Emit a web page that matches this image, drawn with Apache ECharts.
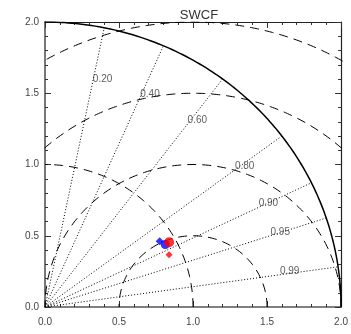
<!DOCTYPE html>
<html>
<head>
<meta charset="utf-8">
<script src="https://cdn.jsdelivr.net/npm/echarts@6/dist/echarts.min.js"></script>
<style>
  html, body { margin: 0; padding: 0; background: #ffffff; }
  #chart { width: 351px; height: 334px; }
</style>
</head>
<body>
<div id="chart"></div>
<script>
// Taylor diagram of normalized standard deviation vs. correlation
const chartTitle = 'SWCF';
const axisTickValues = [0.0, 0.5, 1.0, 1.5, 2.0];
const axisTickLabels = ['0.0', '0.5', '1.0', '1.5', '2.0'];
const outerStdRadius = 2.0;          // solid outer arc
const refStdRadius = 1.0;            // dashed reference std arc
const rmsRadii = [0.5, 1.0, 1.5, 2.0]; // centred RMS difference arcs around (1, 0)
const corrValues = [0.20, 0.40, 0.60, 0.80, 0.90, 0.95, 0.99];
const corrLabels = ['0.20', '0.40', '0.60', '0.80', '0.90', '0.95', '0.99'];
const corrLabelRadius = 1.6;

// cases: normalized standard deviation and correlation with the reference
const caseStd  = [0.902, 0.923, 0.954, 0.915];
const caseCorr = [0.859, 0.880, 0.879, 0.916];

const FONT = '"Liberation Sans", Arial, Helvetica, sans-serif';

function polarToXY(s, r) {
  return [s * r, s * Math.sqrt(Math.max(0, 1 - r * r))];
}

function arcPoints(cx, radius, a0, a1, n) {
  const pts = [];
  for (let i = 0; i <= n; i++) {
    const a = a0 + (a1 - a0) * i / n;
    pts.push([cx + radius * Math.cos(a), radius * Math.sin(a)]);
  }
  return pts;
}

const series = [];

// outer std arc
series.push({
  type: 'line', data: arcPoints(0, outerStdRadius, 0, Math.PI / 2, 240),
  showSymbol: false, silent: true, clip: true, animation: false,
  lineStyle: { color: '#000', width: 1.5, type: 'solid' }, z: 3
});

// reference std arc
series.push({
  type: 'line', data: arcPoints(0, refStdRadius, 0, Math.PI / 2, 160),
  showSymbol: false, silent: true, clip: true, animation: false,
  lineStyle: { color: '#000', width: 1, type: [9, 6] }, z: 2
});

// RMS difference arcs around the reference point
rmsRadii.forEach(function (rad) {
  series.push({
    type: 'line', data: arcPoints(1.0, rad, 0, Math.PI, 300),
    showSymbol: false, silent: true, clip: true, animation: false,
    lineStyle: { color: '#000', width: 1, type: [9, 6] }, z: 2
  });
});

// correlation rays
corrValues.forEach(function (r) {
  series.push({
    type: 'line', data: [[0, 0], polarToXY(outerStdRadius, r)],
    showSymbol: false, silent: true, clip: true, animation: false,
    lineStyle: { color: '#000', width: 1, type: [1, 2] }, z: 2
  });
});

// correlation labels
series.push({
  type: 'scatter', silent: true, animation: false, symbolSize: 1,
  itemStyle: { color: 'rgba(0,0,0,0)' },
  data: corrValues.map(function (r) { return polarToXY(corrLabelRadius, r); }),
  label: {
    show: true, position: 'right', distance: 0, offset: [0, -4],
    formatter: function (p) { return corrLabels[p.dataIndex]; },
    fontSize: 10, color: '#333', fontFamily: FONT
  },
  z: 4
});

// case markers
const caseStyle = [
  { color: '#0000ff', symbol: 'diamond', size: 8 },
  { color: '#0000ff', symbol: 'circle', size: 9 },
  { color: '#ff0000', symbol: 'circle', size: 10 },
  { color: '#ff0000', symbol: 'diamond', size: 7 }
];
caseStd.forEach(function (s, i) {
  series.push({
    type: 'scatter', animation: false,
    data: [polarToXY(s, caseCorr[i])],
    symbol: caseStyle[i].symbol, symbolSize: caseStyle[i].size,
    itemStyle: { color: caseStyle[i].color },
    z: 5 + i
  });
});

function makeAxis(pos, showLabel, lineColor, lineWidth) {
  return {
    type: 'value', position: pos, min: 0, max: 2, interval: 0.5,
    axisLine: { show: true, onZero: false, lineStyle: { color: lineColor, width: lineWidth } },
    axisTick: { show: true, inside: true, length: 6, lineStyle: { color: '#333', width: 1 } },
    minorTick: { show: true, splitNumber: 5, length: 3, lineStyle: { color: '#333', width: 1 } },
    splitLine: { show: false }, minorSplitLine: { show: false },
    axisLabel: {
      show: showLabel, fontSize: 10, color: '#444', fontFamily: FONT,
      margin: pos === 'bottom' ? 10 : 6,
      formatter: function (v) {
        const k = axisTickValues.findIndex(function (t) { return Math.abs(t - v) < 1e-9; });
        return k >= 0 ? axisTickLabels[k] : '';
      }
    }
  };
}

const chart = echarts.init(document.getElementById('chart'), null, { renderer: 'canvas' });
chart.setOption({
  animation: false,
  backgroundColor: '#ffffff',
  title: {
    text: chartTitle, left: 194, top: 4, textAlign: 'center',
    textStyle: { fontSize: 13, fontWeight: 'normal', color: '#333', fontFamily: FONT }
  },
  grid: { left: 45, right: 7, top: 22, bottom: 27 },
  xAxis: [
    makeAxis('bottom', true, '#555', 1.5),
    makeAxis('top', false, '#222', 1.2)
  ],
  yAxis: [
    makeAxis('left', true, '#777', 2),
    makeAxis('right', false, '#222', 1.2)
  ],
  series: series
});
</script>
</body>
</html>
